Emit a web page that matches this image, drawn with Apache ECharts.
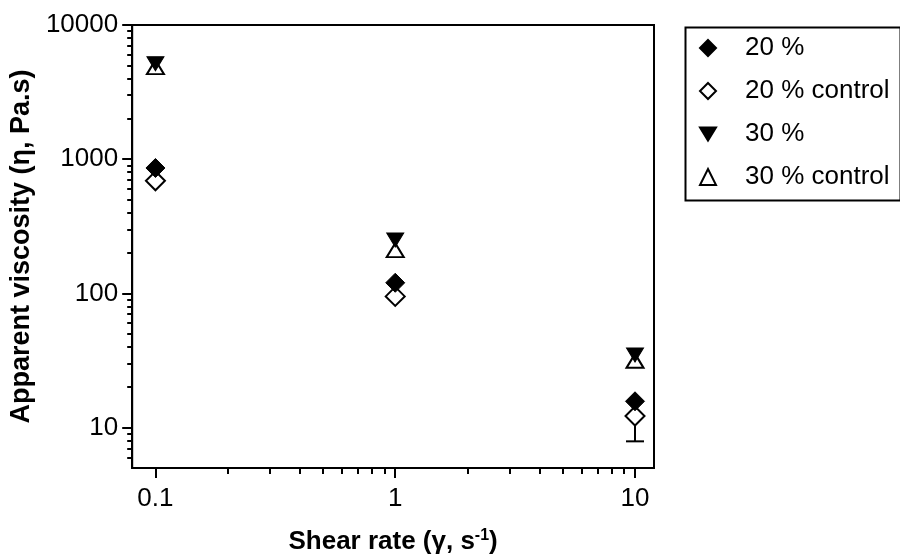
<!DOCTYPE html>
<html>
<head>
<meta charset="utf-8">
<script src="https://cdn.jsdelivr.net/npm/echarts@6/dist/echarts.min.js"></script>
<style>html,body{margin:0;padding:0;background:#fff}#c{width:900px;height:560px}</style>
</head>
<body>
<div id="c"></div>
<script>
const shearRates = [0.1, 1, 10];
const visc20 = [860, 120, 15.7];
const visc20Control = [690, 95, 12.2];
const visc30 = [5150, 250, 34.8];
const visc30Control = [4860, 210, 31.5];
const errorBar20Control = [[10, 12.2, 7.9]];
const xMajorTicks = [0.1, 1, 10];
const xMinorTicks = [0.2,0.3,0.4,0.5,0.6,0.7,0.8,0.9,2,3,4,5,6,7,8,9];
const yMajorTicks = [10, 100, 1000, 10000];
const yMinorTicks = [6,7,8,9,20,30,40,50,60,70,80,90,200,300,400,500,600,700,800,900,2000,3000,4000,5000,6000,7000,8000,9000];

const FONT = 'Liberation Sans';
const pair = (xs, ys) => xs.map((x, i) => [x, ys[i]]);
const DOWN_TRIANGLE = 'path://M0,0L17,0L8.5,14Z';

const chart = echarts.init(document.getElementById('c'), null, {renderer: 'canvas'});
const xBase = {type: 'log', logBase: 10, min: 0.08, max: 12, gridIndex: 0, splitLine: {show: false}};
const yBase = {type: 'log', logBase: 10, min: 5, max: 10000, gridIndex: 0, splitLine: {show: false}};

chart.setOption({
  animation: false,
  backgroundColor: '#fff',
  grid: {left: 126, right: 246, top: 25, bottom: 86, show: true, borderColor: '#000', borderWidth: 2, containLabel: false},
  xAxis: [
    Object.assign({}, xBase, {
      position: 'bottom',
      axisLine: {show: true, lineStyle: {color: '#000', width: 2}},
      axisTick: {show: true, inside: false, length: 10, lineStyle: {color: '#000', width: 2}, customValues: xMajorTicks},
      axisLabel: {show: true, customValues: xMajorTicks, fontFamily: FONT, fontSize: 26, color: '#000', margin: 18,
        formatter: v => String(v)},
      name: 'Shear rate (γ, s{sup|-1})',
      nameLocation: 'middle', nameGap: 60,
      nameTextStyle: {fontFamily: FONT, fontSize: 26, fontWeight: 'bold', color: '#000',
        rich: {sup: {fontFamily: FONT, fontSize: 16, fontWeight: 'bold', color: '#000', padding: [0, 0, 12, 0]}}}
    }),
    Object.assign({}, xBase, {
      position: 'bottom',
      axisLine: {show: false},
      axisTick: {show: true, inside: false, length: 6, lineStyle: {color: '#000', width: 2}, customValues: xMinorTicks},
      axisLabel: {show: false}
    })
  ],
  yAxis: [
    Object.assign({}, yBase, {
      position: 'left',
      axisLine: {show: true, lineStyle: {color: '#000', width: 2}},
      axisTick: {show: true, inside: false, length: 10, lineStyle: {color: '#000', width: 2}, customValues: yMajorTicks},
      axisLabel: {show: true, customValues: yMajorTicks, fontFamily: FONT, fontSize: 26, color: '#000', margin: 14,
        formatter: v => String(v)},
      name: 'Apparent viscosity (η, Pa.s)',
      nameLocation: 'middle', nameGap: 79,
      nameTextStyle: {fontFamily: FONT, fontSize: 27, fontWeight: 'bold', color: '#000'}
    }),
    Object.assign({}, yBase, {
      position: 'left',
      axisLine: {show: false},
      axisTick: {show: true, inside: false, length: 5, lineStyle: {color: '#000', width: 2}, customValues: yMinorTicks},
      axisLabel: {show: false}
    })
  ],
  legend: {
    orient: 'vertical', left: 694, top: 30,
    itemWidth: 16, itemHeight: 16, itemGap: 17,
    textStyle: {fontFamily: FONT, fontSize: 26, color: '#000', lineHeight: 26, padding: [0, 0, 0, 24]},
    data: ['20 %', '20 % control', '30 %', '30 % control']
  },
  graphic: [{type: 'rect', left: 683, top: 25, shape: {width: 215, height: 173},
    style: {fill: null, stroke: '#000', lineWidth: 2}, silent: true}],
  series: [
    {
      type: 'custom', name: 'err', xAxisIndex: 0, yAxisIndex: 0, z: 1, silent: true,
      data: errorBar20Control,
      renderItem: (params, api) => {
        const top = api.coord([api.value(0), api.value(1)]);
        const bot = api.coord([api.value(0), api.value(2)]);
        const hw = 9;
        return {type: 'group', children: [
          {type: 'line', shape: {x1: top[0], y1: top[1], x2: bot[0], y2: bot[1]}, style: {stroke: '#000', lineWidth: 2}},
          {type: 'line', shape: {x1: bot[0] - hw, y1: bot[1], x2: bot[0] + hw, y2: bot[1]}, style: {stroke: '#000', lineWidth: 2}}
        ]};
      }
    },
    {name: '20 % control', type: 'scatter', z: 2, symbol: 'diamond', symbolSize: 19,
      itemStyle: {color: '#fff', borderColor: '#000', borderWidth: 2, opacity: 1}, data: pair(shearRates, visc20Control)},
    {name: '20 %', type: 'scatter', z: 3, symbol: 'diamond', symbolSize: 19,
      itemStyle: {color: '#000', borderColor: '#000', borderWidth: 1, opacity: 1}, data: pair(shearRates, visc20)},
    {name: '30 % control', type: 'scatter', z: 2, symbol: 'triangle', symbolSize: [17, 14],
      itemStyle: {color: '#fff', borderColor: '#000', borderWidth: 2, opacity: 1}, data: pair(shearRates, visc30Control)},
    {name: '30 %', type: 'scatter', z: 3, symbol: DOWN_TRIANGLE, symbolSize: [17, 14],
      itemStyle: {color: '#000', borderColor: '#000', borderWidth: 1, opacity: 1}, data: pair(shearRates, visc30)}
  ]
});
</script>
</body>
</html>
